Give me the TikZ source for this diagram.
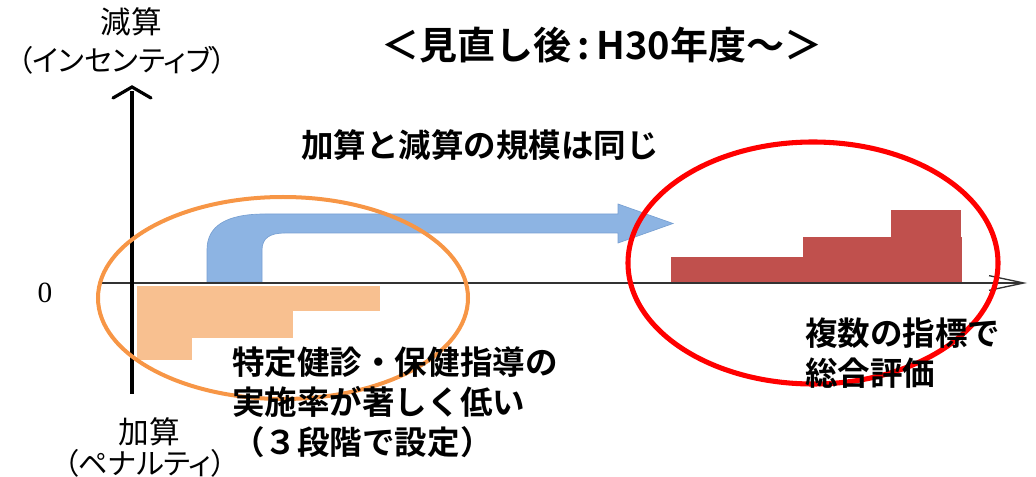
\documentclass[tikz,border=0pt]{standalone}
\usepackage{fontspec}
\newfontfamily\jp{Noto Sans CJK JP}[BoldFont={Noto Sans CJK JP Bold}]
\newfontfamily\jpp{Noto Sans CJK JP}[RawFeature=+palt]
\setmainfont{Liberation Serif}
\usetikzlibrary{positioning}
\usetikzlibrary{arrows.meta}
\definecolor{barorange}{RGB}{248,192,144}
\definecolor{ringorange}{RGB}{247,150,70}
\definecolor{barred}{RGB}{192,80,77}
\definecolor{arrowblue}{RGB}{141,180,227}
\definecolor{arrowedge}{RGB}{120,160,210}

\begin{document}
\begin{tikzpicture}[
	x=0.75pt,y=-0.75pt,
	bodytxt/.style={inner sep=0pt,align=left,font=\jp\bfseries\fontsize{24.4}{30}\selectfont},
	axislbl/.style={inner sep=0pt,font=\jpp\fontsize{23}{26}\selectfont},
	orangebar/.style={fill=barorange,draw=none},
	redbar/.style={fill=barred,draw=none}
]

	\useasboundingbox (0,0) rectangle (1036,477);

	% definitions
	\def\zy{283}
	\def\ax{132}

	% bars below zero
	\fill[orangebar] (137,286) rectangle (380,311);
	\fill[orangebar] (137,311) rectangle (293,338);
	\fill[orangebar] (137,338) rectangle (192,360);

	% bars above zero
	\fill[redbar] (671,257) rectangle (962,\zy);
	\fill[redbar] (803,237) rectangle (962,257);
	\fill[redbar] (891,210) rectangle (961,237);

	% blue arrow
	\filldraw[fill=arrowblue,draw=arrowedge,line width=0.5pt]
		(207,282) -- (207,250) .. controls (207,226) and (226,214) .. (265,214)
		-- (618,214) -- (618,204) -- (673,223.5) -- (618,243) -- (618,233)
		-- (285,233) .. controls (270,233) and (262,238) .. (262,250)
		-- (262,282) -- cycle;

	% axes
	\coordinate (hstart) at (100,\zy);
	\coordinate (hend) at (1027,\zy);
	\coordinate (vtop) at (\ax,87);
	\coordinate (vbot) at (\ax,394);
	\draw[line width=1.2pt,draw=black!80,-{Straight Barb[length=26pt,width=11pt,line width=1pt]}] (hstart) -- (hend);
	\draw[line width=3.6pt] (vbot) -- ([yshift=-3pt]vtop);
	\draw[line width=2.4pt,line cap=round,line join=miter] (113,98) -- (vtop) -- (151,98);

	% rings
	\draw[ringorange,line width=3pt] (283,298) ellipse [x radius=185,y radius=101];
	\draw[red,line width=3.8pt] (813,263) ellipse [x radius=185,y radius=121];

	% labels
	\node[font=\fontsize{22}{24}\selectfont,inner sep=0pt] (zero) at (45,293) {0};
	\node[axislbl] (minus) at (131,22) {減算};
	\node[axislbl,font=\jpp\fontsize{22}{26}\selectfont] (minussub) at (122,60) {（インセンティブ）};
	\node[axislbl] (plus) at (149,432) {加算};
	\node[axislbl,font=\jpp\fontsize{22}{26}\selectfont] (plussub) at (145,463) {（ペナルティ）};

	\node[inner sep=0pt,font=\jp\bfseries\fontsize{28.5}{30}\selectfont] (title) at (602,45) {＜見直し後\,:\,H30年度～＞};
	\node[bodytxt] (same) at (480,145) {加算と減算の規模は同じ};
	\node[bodytxt,anchor=north west] (penal) at (232,347) {特定健診・保健指導の\\実施率が著しく低い\\（３段階で設定）};
	\node[bodytxt,anchor=north west] (multi) at (805,318) {複数の指標で\\総合評価};

\end{tikzpicture}
\end{document}
